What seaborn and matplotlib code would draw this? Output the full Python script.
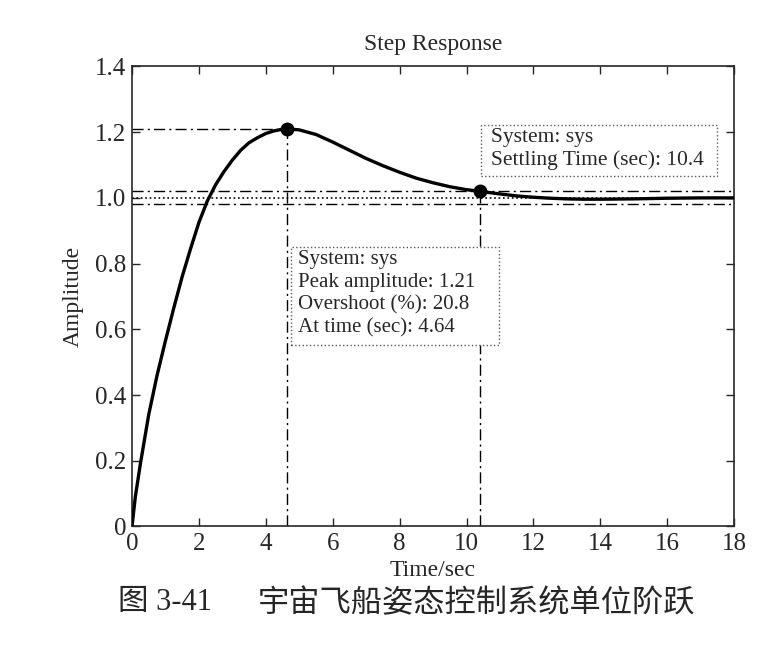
import matplotlib
matplotlib.use('Agg')
import matplotlib.pyplot as plt
from matplotlib.patches import Rectangle
import seaborn as sns

# step response
time_s = [0, 0.1, 0.25, 0.5, 0.75, 1.0, 1.25, 1.5, 1.75, 2.0, 2.25, 2.5, 2.75,
          3.0, 3.25, 3.5, 3.75, 4.0, 4.25, 4.5, 4.64, 5.0, 5.5, 6.0, 6.5, 7.0,
          7.5, 8.0, 8.5, 9.0, 9.5, 10.0, 10.4, 11.0, 11.5, 12.0, 12.5, 13.0,
          13.5, 14.0, 15.0, 16.0, 17.0, 18.0]
amplitude = [0, 0.09, 0.19, 0.34, 0.46, 0.565, 0.665, 0.76, 0.845, 0.925, 0.99,
             1.04, 1.08, 1.115, 1.145, 1.168, 1.183, 1.196, 1.204, 1.209, 1.21,
             1.207, 1.193, 1.17, 1.145, 1.12, 1.098, 1.078, 1.06, 1.046, 1.034,
             1.025, 1.02, 1.012, 1.006, 1.002, 0.999, 0.997, 0.996, 0.996,
             0.997, 0.999, 1.0, 1.0]

peak_time = 4.64
peak_amp = 1.21
overshoot = 20.8
settle_time = 10.4
settle_amp = 1.02
final_value = 1.0
band = [0.98, 1.02]

xticks = [0, 2, 4, 6, 8, 10, 12, 14, 16, 18]
yticks = [0, 0.2, 0.4, 0.6, 0.8, 1.0, 1.2, 1.4]
ytick_labels = ['0', '0.2', '0.4', '0.6', '0.8', '1.0', '1.2', '1.4']

sns.set_style('ticks')
plt.rcParams['font.family'] = ['Liberation Serif', 'Noto Sans CJK SC']

fig = plt.figure(figsize=(7.8, 6.6), dpi=100)
ax = fig.add_axes([0.1692, 0.2023, 0.772, 0.697])

dd = (8, 3, 1.5, 3)  # dash-dot pattern
# reference lines (under the curve)
ax.axhline(final_value, color='k', ls=':', lw=1.2, zorder=1)
for b in band:
    ax.axhline(b, color='k', ls='-.', lw=1.0, dashes=dd, zorder=1)
ax.plot([0, peak_time], [peak_amp, peak_amp], color='k', lw=1.0,
        ls='-.', dashes=dd, zorder=1)
ax.plot([peak_time, peak_time], [0, peak_amp], color='k', lw=1.0,
        ls='-.', dashes=dd, zorder=1)
ax.plot([settle_time, settle_time], [0, settle_amp], color='k', lw=1.0,
        ls='-.', dashes=dd, zorder=1)

sns.lineplot(x=time_s, y=amplitude, ax=ax, color='k', lw=2.4,
             estimator=None, sort=True, zorder=3)
ax.plot([peak_time, settle_time], [peak_amp, settle_amp], 'o', color='k',
        ms=9, zorder=4)

# data tips
ax.add_patch(Rectangle((4.75, 0.552), 6.23, 0.298, fc='white', ec='0.35',
                       ls=':', lw=1.0, zorder=5))
ax.text(4.96, 0.842,
        'System: sys\nPeak amplitude: %.2f\nOvershoot (%%): %.1f\nAt time (sec): %.2f'
        % (peak_amp, overshoot, peak_time),
        fontsize=15, va='top', ha='left', linespacing=1.27, zorder=6)
ax.add_patch(Rectangle((10.42, 1.068), 7.07, 0.155, fc='white', ec='0.35',
                       ls=':', lw=1.0, zorder=5))
ax.text(10.72, 1.214, 'System: sys\nSettling Time (sec): %.1f' % settle_time,
        fontsize=15.5, va='top', ha='left', linespacing=1.22, zorder=6)

ax.set_xlim(0, 18)
ax.set_ylim(0, 1.4)
ax.set_xticks(xticks)
ax.set_xticklabels([str(v) for v in xticks])
ax.set_yticks(yticks)
ax.set_yticklabels(ytick_labels)
ax.tick_params(direction='in', top=True, right=True, length=6, width=1,
               labelsize=18)
ax.tick_params(axis='x', pad=5)
ax.tick_params(axis='y', pad=4)
for s in ax.spines.values():
    s.set_linewidth(1.2)
    s.set_visible(True)

ax.set_title('Step Response', fontsize=17, pad=12)
ax.set_xlabel('Time/sec', fontsize=17, labelpad=3)
ax.set_ylabel('Amplitude', fontsize=17, labelpad=8)

fig.text(118 / 780, 1 - 603 / 660, '图 3-41', fontsize=22, va='center',
         ha='left')
fig.text(258 / 780, 1 - 603 / 660, '宇宙飞船姿态控制系统单位阶跃',
         family=['Noto Sans CJK SC'], fontsize=22.5, va='center', ha='left')

fig.savefig('out.png', dpi=100)
